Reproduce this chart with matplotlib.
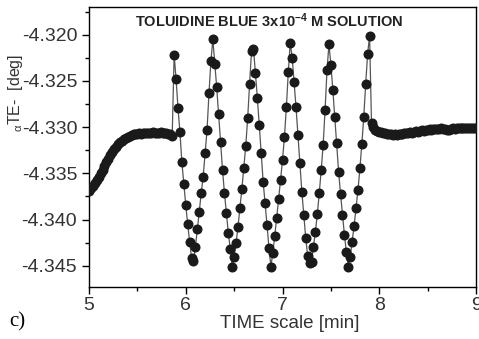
import numpy as np
import matplotlib
matplotlib.use('Agg')
import matplotlib.pyplot as plt
from matplotlib.ticker import MultipleLocator, FormatStrFormatter

plt.rcParams['font.family'] = ['Liberation Sans', 'DejaVu Sans']
plt.rcParams['axes.unicode_minus'] = False
plt.rcParams['mathtext.fontset'] = 'custom'
plt.rcParams['mathtext.rm'] = 'Liberation Sans'
plt.rcParams['mathtext.it'] = 'Liberation Sans'
plt.rcParams['mathtext.bf'] = 'Liberation Sans:bold'

# sampling of the measurement (min)
t_start = 5.0
dt = 0.02

# angle readings [deg]: approach to the plateau before the dye pulses
approach = [-4.33691, -4.33664, -4.33637, -4.33605, -4.33572, -4.33540, -4.33497, -4.33459,
            -4.33421, -4.33378, -4.33340, -4.33302, -4.33270, -4.33238, -4.33211, -4.33184,
            -4.33162, -4.33146, -4.33130, -4.33113, -4.33103, -4.33092, -4.33086, -4.33076,
            -4.33070, -4.33070, -4.33065, -4.33070, -4.33059, -4.33065, -4.33059, -4.33065,
            -4.33059, -4.33054, -4.33059, -4.33065, -4.33059, -4.33054, -4.33059, -4.33065,
            -4.33065, -4.33070, -4.33076, -4.33092]

# six pulses of toluidine blue solution
oscillation = [-4.32215, -4.32482, -4.32792, -4.33057, -4.33381, -4.33616, -4.33842, -4.34048,
               -4.34239, -4.34418, -4.34447, -4.34293, -4.34105, -4.33915, -4.33709, -4.33537,
               -4.33278, -4.33032, -4.32636, -4.32287, -4.32050, -4.32312, -4.32571, -4.32863,
               -4.33162, -4.33464, -4.33713, -4.33929, -4.34145, -4.34317, -4.34509, -4.34401,
               -4.34256, -4.34077, -4.33878, -4.33670, -4.33443, -4.33205, -4.32906, -4.32528,
               -4.32176, -4.32150, -4.32414, -4.32681, -4.32978, -4.33284, -4.33591, -4.33821,
               -4.34058, -4.34307, -4.34509, -4.34358, -4.34177, -4.33983, -4.33778, -4.33572,
               -4.33356, -4.33105, -4.32787, -4.32403, -4.32085, -4.32248, -4.32511, -4.32787,
               -4.33086, -4.33389, -4.33699, -4.33950, -4.34199, -4.34393, -4.34469, -4.34458,
               -4.34293, -4.34131, -4.33940, -4.33713, -4.33464, -4.33194, -4.32816, -4.32384,
               -4.32104, -4.32323, -4.32593, -4.32889, -4.33170, -4.33483, -4.33724, -4.33950,
               -4.34166, -4.34350, -4.34509, -4.34401, -4.34239, -4.34069, -4.33878, -4.33680,
               -4.33446, -4.33184, -4.32889, -4.32528, -4.32204, -4.32014]

# back on the baseline
recovery = [-4.32957, -4.33000, -4.33027, -4.33038, -4.33049, -4.33054, -4.33059, -4.33065,
            -4.33070, -4.33076, -4.33076, -4.33081, -4.33076, -4.33081, -4.33076, -4.33070,
            -4.33076, -4.33065, -4.33059, -4.33065, -4.33054, -4.33059, -4.33049, -4.33043,
            -4.33049, -4.33038, -4.33032, -4.33038, -4.33027, -4.33032, -4.33022, -4.33027,
            -4.33022, -4.33016, -4.33022, -4.33016, -4.33011, -4.33016, -4.33022, -4.33032,
            -4.33027, -4.33016, -4.33011, -4.33016, -4.33011, -4.33005, -4.33011, -4.33005,
            -4.33011, -4.33005, -4.33011, -4.33005, -4.33011, -4.33005, -4.33011]

angle = np.array(approach + oscillation + recovery)
time = t_start + dt * np.arange(len(angle))

W, H = 479, 339
fig = plt.figure(figsize=(W / 100, H / 100), dpi=100)
ax = fig.add_axes([89 / W, 1 - 287 / H, (476 - 89) / W, (287 - 7) / H])

ax.plot(time, angle, '-', color='#555555', lw=0.9, marker='o', ms=6.2,
        mfc='#1a1a1a', mec='#1a1a1a', zorder=3)

ax.set_xlim(5, 9)
ax.set_ylim(-4.3473, -4.3170)
ax.xaxis.set_major_locator(MultipleLocator(1))
ax.xaxis.set_minor_locator(MultipleLocator(0.5))
ax.yaxis.set_major_locator(MultipleLocator(0.005))
ax.yaxis.set_minor_locator(MultipleLocator(0.0025))
ax.yaxis.set_major_formatter(FormatStrFormatter('%.3f'))
ax.tick_params(which='major', direction='out', length=5, width=1, labelsize=14,
               labelcolor='#333333')
ax.tick_params(axis='x', which='major', pad=2)
ax.tick_params(which='minor', direction='out', length=3, width=1)
for s in ax.spines.values():
    s.set_linewidth(1)

fig.text(269.5 / W, 1 - 21 / H, r'TOLUIDINE BLUE 3x10$^{\mathbf{-4}}$ M SOLUTION',
         ha='center', va='center', fontsize=10.5, fontweight='bold', color='#222222')
fig.text(16 / W, 1 - 93 / H, r'${}_{\alpha}$TE-  [deg]', rotation=90,
         ha='center', va='center', fontsize=11.5, color='#333333')
fig.text(290 / W, 1 - 324 / H, 'TIME scale [min]', ha='center', va='center',
         fontsize=13.5, color='#333333')
fig.text(17 / W, 1 - 322 / H, 'c)', ha='center', va='center', fontsize=15,
         family='Liberation Serif')

fig.savefig('out.png', dpi=100)
